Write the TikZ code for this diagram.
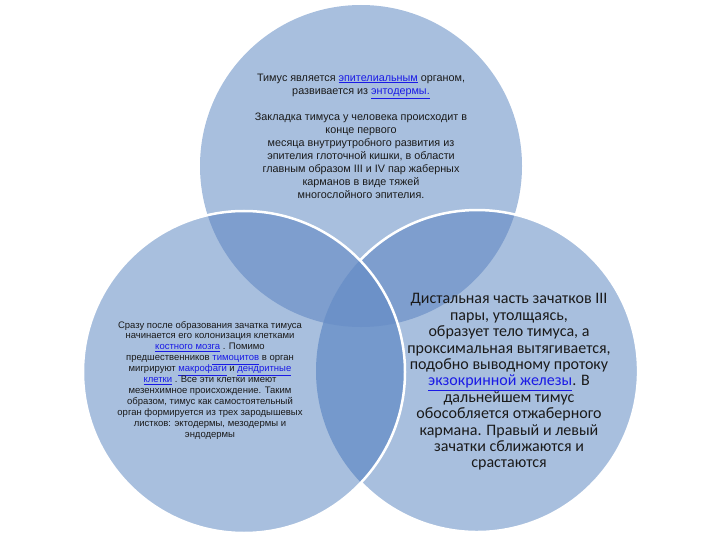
\documentclass[tikz,border=0pt]{standalone}
\usepackage{fontspec}
\setmainfont{Liberation Sans}
\newfontfamily\calfont{Carlito}
\definecolor{cL}{HTML}{A8BFDE}
\definecolor{cM}{HTML}{7E9ECE}
\definecolor{cLR}{HTML}{7599CC}
\definecolor{cD}{HTML}{6C91C8}
\definecolor{linkblue}{HTML}{1A1AE6}
\definecolor{txt}{HTML}{1A1A1A}
\newcommand\mylink[1]{\textcolor{linkblue}{\underline{#1}}}
\begin{document}
\begin{tikzpicture}[x=1pt,y=-1pt,
  ring/.style={white,line width=2.5pt},
  txtnode/.style={align=center,text=txt,inner sep=0pt}]
\useasboundingbox (0,0) rectangle (720,540);
\coordinate (ct) at (361,166);
\coordinate (cl) at (244,372);
\coordinate (cr) at (477,371);
\coordinate (X) at (360.5,260);
\def\R{161}
% base fills
\fill[cL] (ct) circle (\R);
\fill[cL] (cr) circle (\R);
\fill[cL] (cl) circle (\R);
% pairwise overlaps
\begin{scope}
  \clip (ct) circle (\R);
  \fill[cM] (cr) circle (\R);
  \fill[cM] (cl) circle (\R);
\end{scope}
\begin{scope}
  \clip (cl) circle (\R);
  \fill[cLR] (cr) circle (\R);
\end{scope}
% triple overlap
\begin{scope}
  \clip (ct) circle (\R);
  \clip (cl) circle (\R);
  \fill[cD] (cr) circle (\R);
\end{scope}
% white outlines
\draw[ring] (X) arc[start angle=-136.4, end angle=136.4, radius=\R];
\draw[ring] (cl) circle (\R);
% texts
\node[txtnode,font=\fontsize{10.8}{13}\selectfont] (t1) at (361,136) {%
Тимус является \mylink{эпителиальным} органом,\\
развивается из \mylink{энтодермы.}\\[13pt]
Закладка тимуса у человека происходит в\\
конце первого\\
месяца внутриутробного развития из\\
эпителия глоточной кишки, в области\\
главным образом III и IV пар жаберных\\
карманов в виде тяжей\\
многослойного эпителия.};
\node[txtnode,font=\fontsize{9.5}{10.9}\selectfont] (t2) at (210,380) {%
Сразу после образования зачатка тимуса\\
начинается его колонизация клетками\\
\mylink{костного мозга} . Помимо\\
предшественников \mylink{тимоцитов} в орган\\
мигрируют \mylink{макрофаги} и \mylink{дендритные}\\
\mylink{клетки} . Все эти клетки имеют\\
мезенхимное происхождение. Таким\\
образом, тимус как самостоятельный\\
орган формируется из трех зародышевых\\
листков: эктодермы, мезодермы и\\
эндодермы};
\node[txtnode,font=\calfont\fontsize{16}{16.4}\selectfont] (t3) at (509,382) {%
Дистальная часть зачатков III\\
пары, утолщаясь,\\
образует тело тимуса, а\\
проксимальная вытягивается,\\
подобно выводному протоку\\
\mylink{экзокринной железы}. В\\
дальнейшем тимус\\
обособляется отжаберного\\
кармана. Правый и левый\\
зачатки сближаются и\\
срастаются};
\end{tikzpicture}
\end{document}
